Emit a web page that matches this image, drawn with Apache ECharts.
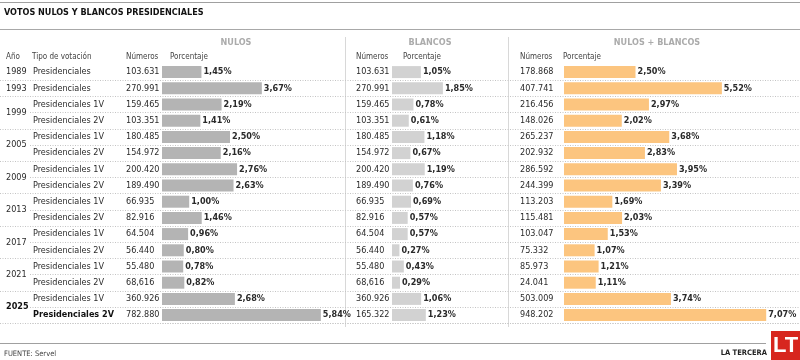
<!DOCTYPE html>
<html>
<head>
<meta charset="utf-8">
<script src="https://cdn.jsdelivr.net/npm/echarts@6/dist/echarts.min.js"></script>
<style>html,body{margin:0;padding:0;background:#fff}#c{width:800px;height:360px}</style>
</head>
<body>
<div id="c"></div>
<script>
// ---- data ----
const years = ['1989','1993','1999','','2005','','2009','','2013','','2017','','2021','','2025',''];
const types = ['Presidenciales','Presidenciales','Presidenciales 1V','Presidenciales 2V','Presidenciales 1V','Presidenciales 2V','Presidenciales 1V','Presidenciales 2V','Presidenciales 1V','Presidenciales 2V','Presidenciales 1V','Presidenciales 2V','Presidenciales 1V','Presidenciales 2V','Presidenciales 1V','Presidenciales 2V'];
const nulosNum = ['103.631','270.991','159.465','103.351','180.485','154.972','200.420','189.490','66.935','82.916','64.504','56.440','55.480','68,616','360.926','782.880'];
const nulosPct = [1.45,3.67,2.19,1.41,2.50,2.16,2.76,2.63,1.00,1.46,0.96,0.80,0.78,0.82,2.68,5.84];
const blancosNum = ['103.631','270.991','159.465','103.351','180.485','154.972','200.420','189.490','66.935','82.916','64.504','56.440','55.480','68,616','360.926','165.322'];
const blancosPct = [1.05,1.85,0.78,0.61,1.18,0.67,1.19,0.76,0.69,0.57,0.57,0.27,0.43,0.29,1.06,1.23];
const totalNum = ['178.868','407.741','216.456','148.026','265.237','202.932','286.592','244.399','113.203','115.481','103.047','75.332','85.973','24.041','503.009','948.202'];
const totalPct = [2.50,5.52,2.97,2.02,3.68,2.83,3.95,3.39,1.69,2.03,1.53,1.07,1.21,1.11,3.74,7.07];
const boldRow = 15;

// ---- style ----
const FONT = "'Liberation Sans Narrow','DejaVu Sans Condensed','Roboto',sans-serif";
const FS = 9;
const TXT = '#2a2a2a';
const TOP = 64, ROWH = 16.2, N = years.length, H = ROWH * N;

const chart = echarts.init(document.getElementById('c'), null, {renderer: 'canvas'});

function labAxis(grid, data, margin, boldLast) {
  return {
    type: 'category', gridIndex: grid, data: data, inverse: true, position: 'left',
    axisLine: {show: false}, axisTick: {show: false}, splitLine: {show: false},
    axisLabel: {
      show: true, interval: 0, align: 'left', margin: margin, fontFamily: FONT, fontSize: FS, color: TXT,
      formatter: (v, i) => (boldLast && i === boldRow) ? '{b|' + v + '}' : v,
      rich: {b: {fontFamily: FONT, fontSize: FS, fontWeight: 'bold', color: '#111'}}
    }
  };
}
function lineAxis(grid, fn) {
  return {
    type: 'category', gridIndex: grid, data: types.map((t, i) => i), inverse: true,
    axisLine: {show: false}, axisTick: {show: false}, axisLabel: {show: false},
    splitLine: {show: true, interval: fn, lineStyle: {type: [1, 1.5], color: '#c4c4c4', width: 1}}
  };
}
function hx(grid, max) {
  return {type: 'value', gridIndex: grid, min: 0, max: max, show: false};
}
const pctFmt = p => p.value.toFixed(2).replace('.', ',') + '%';
function barSeries(xi, yi, data, color) {
  return {
    type: 'bar', xAxisIndex: xi, yAxisIndex: yi, data: data, barWidth: 12,
    itemStyle: {color: color}, silent: true, animation: false,
    label: {show: true, position: 'right', distance: 2, formatter: pctFmt,
      fontFamily: FONT, fontSize: FS, fontWeight: 'bold', color: TXT}
  };
}

const yearsRich = {
  y: {fontFamily: FONT, fontSize: FS, color: TXT},
  yb: {fontFamily: FONT, fontSize: FS, color: '#111', fontWeight: 'bold'},
  g: {fontFamily: FONT, fontSize: FS, color: TXT, padding: [ROWH, 0, 0, 0]},
  gb: {fontFamily: FONT, fontSize: FS, color: '#111', fontWeight: 'bold', padding: [ROWH, 0, 0, 0]}
};

const headTxt = (x, y, text, o) => ({type: 'text', x: x, y: y, style: Object.assign({text: text, fontFamily: FONT, fontSize: 8, fill: '#444', verticalAlign: 'middle'}, o || {})});
const hline = (x1, x2, y, color) => ({type: 'line', shape: {x1: x1, y1: y, x2: x2, y2: y}, style: {stroke: color, lineWidth: 1}});
const vline = (x, y1, y2) => ({type: 'line', shape: {x1: x, y1: y1, x2: x, y2: y2}, style: {stroke: '#d8d8d8', lineWidth: 1}});
const secHead = (x, text) => ({type: 'text', x: x, y: 43, style: {text: text, fontFamily: FONT, fontSize: 9, fontWeight: 'bold', fill: '#ababab', align: 'center', verticalAlign: 'middle'}});

const yearAxis = labAxis(0, years, 156, false);
yearAxis.axisLabel.formatter = (v, i) => {
  if (!v) return '';
  const pair = i + 1 < N && years[i + 1] === '';
  const key = (pair ? 'g' : 'y') + (i === boldRow - 1 ? 'b' : '');
  return '{' + key + '|' + v + '}';
};
yearAxis.axisLabel.rich = yearsRich;

const option = {
  backgroundColor: '#fff',
  animation: false,
  grid: [
    {left: 162, top: TOP, width: 6 * 27.2, height: H},
    {left: 392, top: TOP, width: 2 * 27.5, height: H},
    {left: 564, top: TOP, width: 8 * 28.6, height: H},
    {left: 0, top: TOP, width: 800, height: H},
    {left: 30, top: TOP, width: 770, height: H}
  ],
  xAxis: [hx(0, 6), hx(1, 2), hx(2, 8), hx(3, 1), hx(4, 1)],
  yAxis: [
    labAxis(0, nulosNum, 36, false),
    labAxis(0, types, 129, true),
    yearAxis,
    labAxis(1, blancosNum, 36, false),
    labAxis(2, totalNum, 44, false),
    lineAxis(3, (i) => i > 0 && i < N && years[i] !== ''),
    lineAxis(4, (i) => i > 0 && i < N && years[i] === '')
  ],
  series: [
    barSeries(0, 0, nulosPct, '#b4b4b4'),
    barSeries(1, 3, blancosPct, '#d2d2d2'),
    barSeries(2, 4, totalPct, '#fcc57f')
  ],
  graphic: [
    hline(0, 800, 2.5, '#a0a0a0'),
    hline(0, 800, 29.5, '#a8a8a8'),
    hline(0, 766, 343.5, '#a0a0a0'),
    vline(345.5, 37, 327),
    vline(508.5, 37, 327),
    headTxt(4, 13, 'VOTOS NULOS Y BLANCOS PRESIDENCIALES', {fontSize: 9, fontWeight: 'bold', fill: '#111'}),
    secHead(236, 'NULOS'),
    secHead(430, 'BLANCOS'),
    secHead(657, 'NULOS + BLANCOS'),
    headTxt(6, 57, 'Año'),
    headTxt(32, 57, 'Tipo de votación'),
    headTxt(126, 57, 'Números'),
    headTxt(170, 57, 'Porcentaje'),
    headTxt(356, 57, 'Números'),
    headTxt(403, 57, 'Porcentaje'),
    headTxt(520, 57, 'Números'),
    headTxt(563, 57, 'Porcentaje'),
    headTxt(4, 354, 'FUENTE: Servel', {fontSize: 7.5, fill: '#444'}),
    headTxt(767, 353, 'LA TERCERA', {fontSize: 7.5, fontWeight: 'bold', fill: '#222', align: 'right'}),
    {type: 'rect', shape: {x: 771, y: 331, width: 29, height: 29}, style: {fill: '#d7261e'}},
    {type: 'text', x: 785.5, y: 346, style: {text: 'LT', fontFamily: "'Liberation Sans','Roboto',sans-serif", fontSize: 22, fontWeight: 'bold', fill: '#fff', align: 'center', verticalAlign: 'middle'}}
  ]
};
chart.setOption(option);
</script>
</body>
</html>
